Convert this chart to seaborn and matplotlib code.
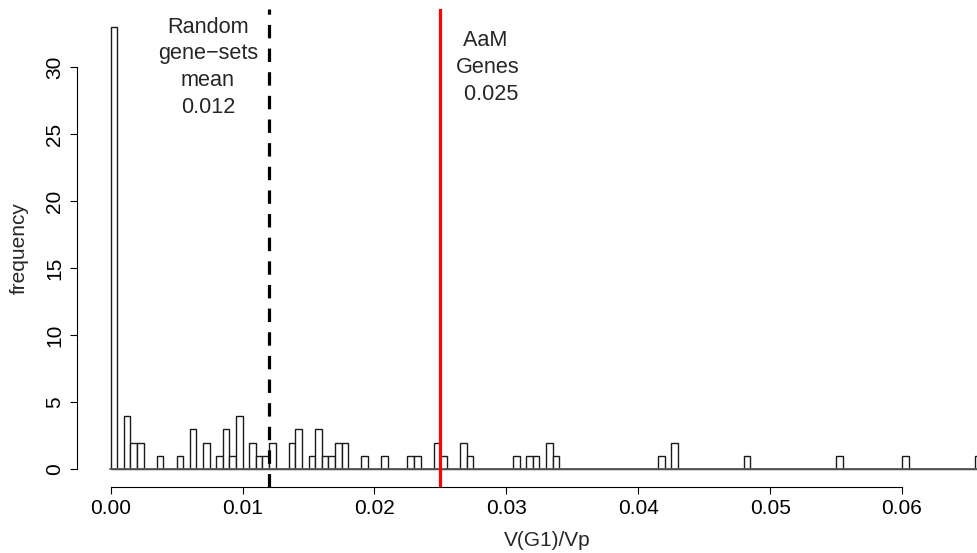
import numpy as np
import pandas as pd
import seaborn as sns
import matplotlib.pyplot as plt

# histogram: bin midpoints (width 0.0005) and counts
vg1_mid = [0.00025, 0.00125, 0.00175, 0.00225, 0.00375, 0.00525, 0.00625, 0.00725,
           0.00825, 0.00875, 0.00925, 0.00975, 0.01075, 0.01125, 0.01175, 0.01225,
           0.01375, 0.01425, 0.01525, 0.01575, 0.01625, 0.01675, 0.01725, 0.01775,
           0.01925, 0.02075, 0.02275, 0.02325, 0.02475, 0.02525, 0.02675, 0.02725,
           0.03075, 0.03175, 0.03225, 0.03325, 0.03375, 0.04175, 0.04275, 0.04825,
           0.05525, 0.06025, 0.06575]
counts = [33, 4, 2, 2, 1, 1, 3, 2,
          1, 3, 1, 4, 2, 1, 1, 2,
          2, 3, 1, 3, 1, 1, 2, 2,
          1, 1, 1, 1, 2, 1, 2, 1,
          1, 1, 1, 2, 1, 1, 2, 1,
          1, 1, 1]
random_mean = 0.012
aam_value = 0.025
x_ticks = [0.00, 0.01, 0.02, 0.03, 0.04, 0.05, 0.06]
y_ticks = [0, 5, 10, 15, 20, 25, 30]

df = pd.DataFrame({"vg1": vg1_mid, "n": counts})

sns.set_style("ticks")
plt.rcParams['font.family'] = ['Liberation Sans', 'DejaVu Sans']
fs = 15

fig = plt.figure(figsize=(9.78, 5.53), dpi=100)
ax = fig.add_axes([77 / 978, 66 / 553, 901 / 978, 478 / 553])

sns.histplot(data=df, x="vg1", weights="n", binwidth=0.0005, binrange=(0, 0.066),
             color="white", edgecolor="#1a1a1a", linewidth=1.0, alpha=1, ax=ax)
# zero-count bins draw the baseline; darken it a touch
ax.axhline(0, xmin=0.0371, xmax=1, color="#555555", lw=1.3, zorder=1)

ax.axvline(random_mean, color="black", lw=2.3, ls=(0, (4.2, 3.2)))
ax.axvline(aam_value, color="#ff0000", lw=2.3)

ax.text(0.00738, 30, "Random\ngene\u2212sets\nmean\n0.012", ha="center", va="center",
        fontsize=15.6, linespacing=1.36)
ax.text(0.0286, 30, "AaM \nGenes\n 0.025", ha="center", va="center",
        fontsize=15.6, linespacing=1.36)

ax.set_xlim(-0.002555, 0.06576)
ax.set_ylim(-1.32, 34.35)
ax.set_xticks(x_ticks)
ax.set_xticklabels(["0.00", "0.01", "0.02", "0.03", "0.04", "0.05", "0.06"])
ax.set_yticks(y_ticks)
ax.set_yticklabels([str(v) for v in y_ticks], rotation=90, va="center")
ax.tick_params(length=5, width=0.8, labelsize=fs, pad=4, colors="black")
for s in ["left", "bottom"]:
    ax.spines[s].set_linewidth(0.8)
    ax.spines[s].set_color("black")
sns.despine(ax=ax, trim=True)

ax.set_xlabel("V(G1)/Vp", fontsize=fs)
ax.xaxis.set_label_coords((547 - 77) / 901, -0.092)
ax.set_ylabel("frequency", fontsize=fs)
ax.yaxis.set_label_coords(-0.0536, 0.5)

plt.savefig("out.png", dpi=100)
